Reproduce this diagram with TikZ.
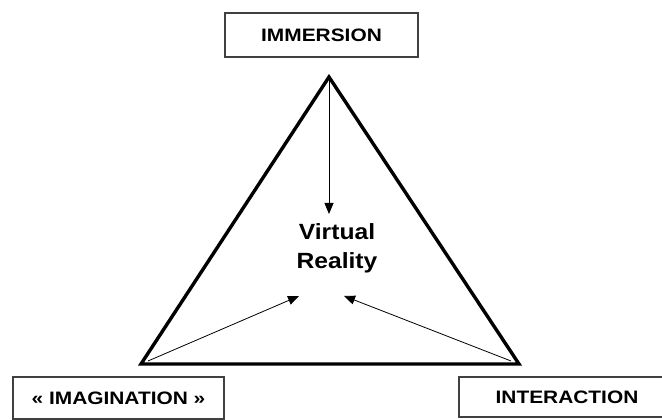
\documentclass[tikz,border=0pt]{standalone}
\usepackage{fontspec}
\setmainfont{Liberation Sans}
\newfontfamily\widesans[FakeStretch=1.16]{Liberation Sans}
\newfontfamily\midsans[FakeStretch=1.12]{Liberation Sans}
\usetikzlibrary{arrows.meta}
\begin{document}
\begin{tikzpicture}[x=1pt,y=1pt,
  labelbox/.style={draw=black!75, line width=1.3pt, fill=white, inner sep=0pt, font=\widesans\bfseries\fontsize{18}{20}\selectfont},
  side/.style={line width=3.4pt, line join=miter},
  ptr/.style={line width=0.8pt, -{Triangle[length=11pt,width=9pt]}}]
\useasboundingbox (0,0) rectangle (662,420);
% corners of the triangle
\coordinate (apex) at (329,343);
\coordinate (bl) at (141,56);
\coordinate (br) at (519,56);
\draw[side] (apex) -- (br) -- (bl) -- cycle;
% boxes
\node[labelbox, minimum width=193pt, minimum height=44pt] (imm) at (321.5,385) {IMMERSION};
\node[labelbox, minimum width=211pt, minimum height=42pt] (ima) at (118.5,22) {« IMAGINATION »};
\node[labelbox, minimum width=216pt, minimum height=40pt] (int) at (567,23) {INTERACTION};
% centre text
\node[font=\midsans\bfseries\fontsize{22}{29}\selectfont, align=center] (vr) at (337,172) {Virtual\\Reality};
% arrow targets and starts
\coordinate (t1) at (329,206);
\coordinate (t2) at (299,124);
\coordinate (t3) at (344,124);
\coordinate (s2) at (148,59);
\coordinate (s3) at (511,59);
\draw[ptr] (apex) -- (t1);
\draw[ptr] (s2) -- (t2);
\draw[ptr] (s3) -- (t3);
\end{tikzpicture}
\end{document}
